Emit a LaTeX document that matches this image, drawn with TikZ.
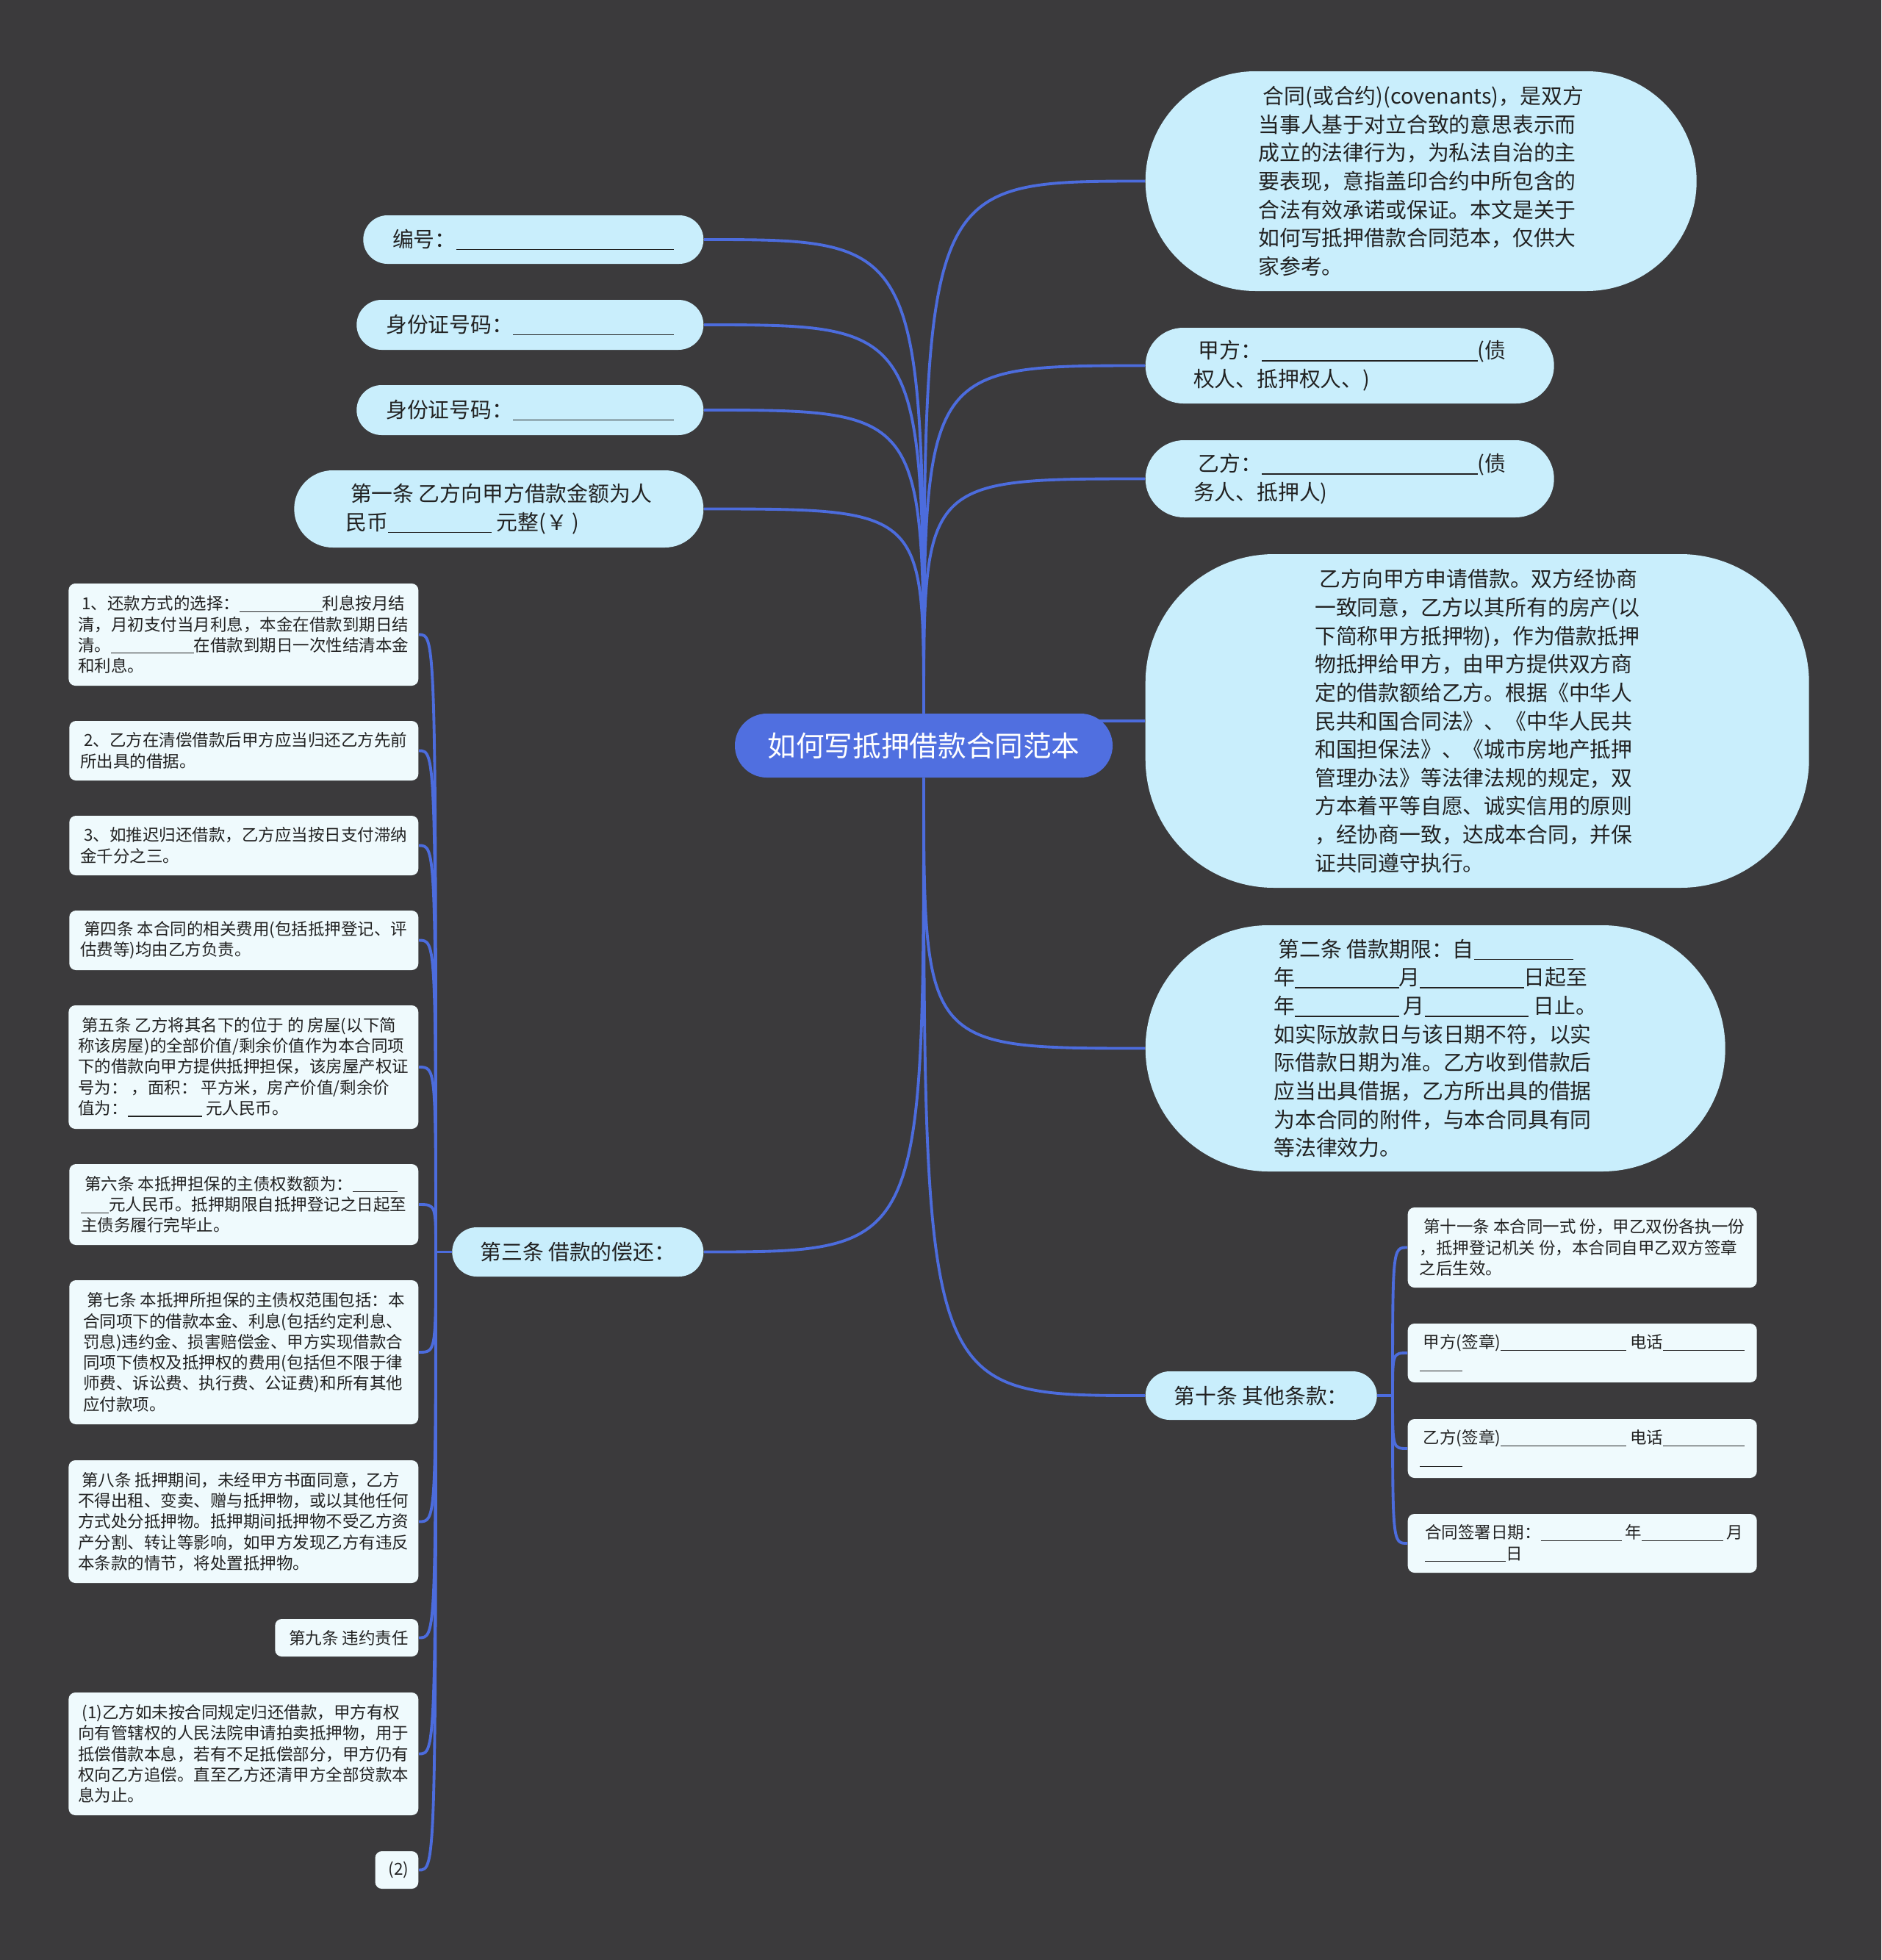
\documentclass[tikz,border=0pt]{standalone}
\usepackage{fontspec}
\setmainfont{Noto Sans CJK SC}
\usepackage{xcolor}
\usepackage{tikz}
\usetikzlibrary{shapes.misc,backgrounds}

\definecolor{pagebg}{HTML}{3B3A3C}
\definecolor{rootblue}{HTML}{506FE0}
\definecolor{linkblue}{HTML}{4C6CDD}
\definecolor{bubblefill}{HTML}{C9EEFC}
\definecolor{leaffill}{HTML}{EFFAFD}
\definecolor{inktext}{HTML}{222222}

\newcommand{\blank}[1]{\rule[-0.14em]{#1em}{0.055em}}

\begin{document}
\begin{tikzpicture}[line join=round,
  link/.style={draw=linkblue,line width=1.1pt},
  topic/.style={rounded rectangle,fill=rootblue,text=white,inner sep=0pt,
    font=\fontsize{11pt}{14pt}\selectfont},
  bubble/.style={rounded rectangle,fill=bubblefill,text=inktext,align=left,inner sep=0pt,
    font=\fontsize{8.2pt}{11pt}\selectfont},
  bigbubble/.style={bubble,rectangle,rounded corners=1.75cm},
  leafbox/.style={rectangle,rounded corners=0.09cm,fill=leaffill,text=inktext,align=left,
    inner xsep=0.13cm,inner ysep=0pt,minimum width=4.75cm,
    font=\fontsize{6.4pt}{8.05pt}\selectfont}]
  \useasboundingbox (0,0) rectangle (25.600,-26.670);
  \coordinate (s3) at (5.930,-17.035);
  \coordinate (s10) at (18.950,-18.990);

  \node[topic,minimum width=5.14cm,minimum height=0.87cm] (root) at (12.570,-10.145) {如何写抵押借款合同范本};

  \node[bubble,anchor=east,minimum width=4.63cm,minimum height=0.66cm] (bianhao) at (9.580,-3.260) {编号：\blank{10.3}};
  \node[bubble,anchor=east,minimum width=4.72cm,minimum height=0.68cm] (idA) at (9.580,-4.420) {身份证号码：\blank{7.6}};
  \node[bubble,anchor=east,minimum width=4.72cm,minimum height=0.68cm] (idB) at (9.580,-5.580) {身份证号码：\blank{7.6}};
  \node[bubble,anchor=east,minimum width=5.57cm,minimum height=1.05cm] (art1) at (9.580,-6.925) {~第一条 乙方向甲方借款金额为人\\民币\blank{4.9} 元整(￥ )};
  \node[bubble,anchor=east,minimum width=3.42cm,minimum height=0.67cm] (art3) at (9.580,-17.035) {第三条 借款的偿还：};

  \node[bubble,anchor=west,minimum width=7.50cm,minimum height=2.99cm] (intro) at (15.580,-2.465) {~合同(或合约)(covenants)，是双方\\当事人基于对立合致的意思表示而\\成立的法律行为，为私法自治的主\\要表现，意指盖印合约中所包含的\\合法有效承诺或保证。本文是关于\\如何写抵押借款合同范本，仅供大\\家参考。};
  \node[bubble,anchor=west,minimum width=5.56cm,minimum height=1.03cm] (jia) at (15.580,-4.975) {~甲方：\blank{10.2}(债\\权人、抵押权人、)};
  \node[bubble,anchor=west,minimum width=5.56cm,minimum height=1.05cm] (yi) at (15.580,-6.515) {~乙方：\blank{10.2}(债\\务人、抵押人)};
  \node[bigbubble,anchor=west,minimum width=9.03cm,minimum height=4.54cm] (big) at (15.580,-9.810) {~乙方向甲方申请借款。双方经协商\\一致同意，乙方以其所有的房产(以\\下简称甲方抵押物)，作为借款抵押\\物抵押给甲方，由甲方提供双方商\\定的借款额给乙方。根据《中华人\\民共和国合同法》、《中华人民共\\和国担保法》、《城市房地产抵押\\管理办法》等法律法规的规定，双\\方本着平等自愿、诚实信用的原则\\，经协商一致，达成本合同，并保\\证共同遵守执行。};
  \node[bubble,anchor=west,minimum width=7.89cm,minimum height=3.35cm] (art2) at (15.580,-14.265) {~第二条 借款期限：自\blank{4.7}\\年\blank{4.9}月\blank{4.9}日起至\\年\blank{4.9} 月\blank{4.9} 日止。\\如实际放款日与该日期不符，以实\\际借款日期为准。乙方收到借款后\\应当出具借据，乙方所出具的借据\\为本合同的附件，与本合同具有同\\等法律效力。};
  \node[bubble,anchor=west,minimum width=3.15cm,minimum height=0.66cm] (art10) at (15.580,-18.990) {第十条 其他条款：};

  \node[leafbox,anchor=west,minimum height=1.09cm] (art11) at (19.150,-16.975) {~第十一条 本合同一式 份，甲乙双份各执一份\\，抵押登记机关 份，本合同自甲乙双方签章\\之后生效。};
  \node[leafbox,anchor=west,minimum height=0.80cm] (signA) at (19.150,-18.410) {~甲方(签章)\blank{7.6} 电话\blank{4.95}\\\blank{2.6}};
  \node[leafbox,anchor=west,minimum height=0.80cm] (signB) at (19.150,-19.710) {~乙方(签章)\blank{7.6} 电话\blank{4.95}\\\blank{2.6}};
  \node[leafbox,anchor=west,minimum height=0.80cm] (signdate) at (19.150,-21.000) {~合同签署日期：\blank{4.9} 年\blank{4.9} 月\\~\blank{4.9}日};

  \node[leafbox,anchor=east,minimum height=1.39cm] (pay1) at (5.700,-8.635) {~1、还款方式的选择：\blank{5}利息按月结\\清，月初支付当月利息，本金在借款到期日结\\清。\blank{5}在借款到期日一次性结清本金\\和利息。};
  \node[leafbox,anchor=east,minimum height=0.81cm] (pay2) at (5.700,-10.215) {~2、乙方在清偿借款后甲方应当归还乙方先前\\所出具的借据。};
  \node[leafbox,anchor=east,minimum height=0.81cm] (pay3) at (5.700,-11.505) {~3、如推迟归还借款，乙方应当按日支付滞纳\\金千分之三。};
  \node[leafbox,anchor=east,minimum height=0.81cm] (art4) at (5.700,-12.795) {~第四条 本合同的相关费用(包括抵押登记、评\\估费等)均由乙方负责。};
  \node[leafbox,anchor=east,minimum height=1.68cm] (art5) at (5.700,-14.520) {~第五条 乙方将其名下的位于 的 房屋(以下简\\称该房屋)的全部价值/剩余价值作为本合同项\\下的借款向甲方提供抵押担保，该房屋产权证\\号为： ，面积： 平方米，房产价值/剩余价\\值为：\blank{4.5} 元人民币。};
  \node[leafbox,anchor=east,minimum height=1.10cm] (art6) at (5.700,-16.390) {~第六条 本抵押担保的主债权数额为：\blank{2.7}\\\blank{1.7}元人民币。抵押期限自抵押登记之日起至\\主债务履行完毕止。};
  \node[leafbox,anchor=east,minimum height=1.96cm] (art7) at (5.700,-18.400) {~第七条 本抵押所担保的主债权范围包括：本\\合同项下的借款本金、利息(包括约定利息、\\罚息)违约金、损害赔偿金、甲方实现借款合\\同项下债权及抵押权的费用(包括但不限于律\\师费、诉讼费、执行费、公证费)和所有其他\\应付款项。};
  \node[leafbox,anchor=east,minimum height=1.67cm] (art8) at (5.700,-20.705) {~第八条 抵押期间，未经甲方书面同意，乙方\\不得出租、变卖、赠与抵押物，或以其他任何\\方式处分抵押物。抵押期间抵押物不受乙方资\\产分割、转让等影响，如甲方发现乙方有违反\\本条款的情节，将处置抵押物。};
  \node[leafbox,anchor=east,minimum width=1.95cm,minimum height=0.51cm] (art9) at (5.700,-22.285) {~第九条 违约责任};
  \node[leafbox,anchor=east,minimum height=1.67cm] (claus1) at (5.700,-23.865) {~(1)乙方如未按合同规定归还借款，甲方有权\\向有管辖权的人民法院申请拍卖抵押物，用于\\抵偿借款本息，若有不足抵偿部分，甲方仍有\\权向乙方追偿。直至乙方还清甲方全部贷款本\\息为止。};
  \node[leafbox,anchor=east,minimum width=0.57cm,minimum height=0.51cm] (claus2) at (5.700,-25.445) {~(2)};

  \begin{scope}[on background layer]
    \fill[pagebg] (0,0) rectangle (25.600,-26.670);
    \foreach \n in {bianhao,idA,idB,art1}
      \draw[link] (root.north) .. controls (root.north |- \n.east) .. (\n.east);
    \foreach \n in {intro,jia,yi}
      \draw[link] (root.north) .. controls (root.north |- \n.west) .. (\n.west);
    \draw[link] (root.center |- big.west) -- (big.west);
    \draw[link] (root.south) .. controls (root.south |- art3.east) .. (art3.east);
    \foreach \n in {art2,art10}
      \draw[link] (root.south) .. controls (root.south |- \n.west) .. (\n.west);
    \draw[link] (art3.west) -- (s3);
    \foreach \n in {pay1,pay2,pay3,art4,art5,art6,art7,art8,art9,claus1,claus2}
      \draw[link] (s3) .. controls (s3 |- \n.east) .. (\n.east);
    \draw[link] (art10.east) -- (s10);
    \foreach \n in {art11,signA,signB,signdate}
      \draw[link] (s10) .. controls (s10 |- \n.west) .. (\n.west);
  \end{scope}
\end{tikzpicture}
\end{document}
